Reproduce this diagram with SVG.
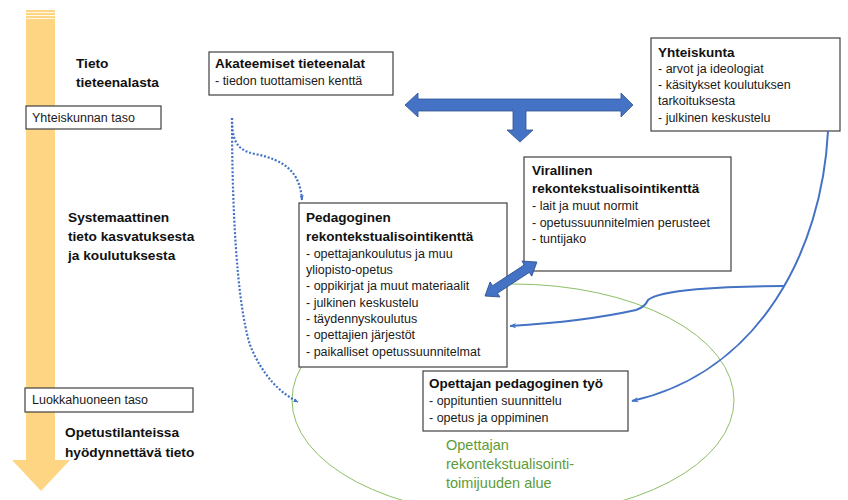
<svg xmlns="http://www.w3.org/2000/svg" width="848" height="500" viewBox="0 0 848 500">
<defs>
<style>
.box{fill:#fff;stroke:#404040;stroke-width:1.2}
.t{font-family:"Liberation Sans",Arial,sans-serif;font-size:12.5px;fill:#1a1a1a}
.b{font-family:"Liberation Sans",Arial,sans-serif;font-size:13.5px;font-weight:bold;fill:#111}
.side{font-family:"Liberation Sans",Arial,sans-serif;font-size:13.7px;font-weight:bold;fill:#111}
.green{font-family:"Liberation Sans",Arial,sans-serif;font-size:14.5px;fill:#5E9B3A}
.conn{fill:none;stroke:#4472C4;stroke-width:2}
.dot{fill:none;stroke:#4472C4;stroke-width:2.2;stroke-dasharray:2 1.8}
.big{fill:#4472C4;stroke:#2F528F;stroke-width:0.8}
</style>
<marker id="ah" viewBox="0 0 10 10" refX="9" refY="5" markerWidth="5" markerHeight="5" orient="auto" markerUnits="userSpaceOnUse">
<path d="M0,1 L10,5 L0,9 z" fill="#4472C4"/>
</marker>
<marker id="ah2" viewBox="0 0 10 10" refX="9" refY="5" markerWidth="7" markerHeight="7" orient="auto" markerUnits="userSpaceOnUse">
<path d="M0,1 L10,5 L0,9 L3,5 z" fill="#4472C4"/>
</marker>
</defs>
<rect width="848" height="500" fill="#fff"/>

<g id="level-arrow">
<polygon points="26,10 55,10 55,460 70,460 41,491 12,460 26,460" fill="#FED583"/>
<line x1="26" y1="12.5" x2="55" y2="12.5" stroke="#fff" stroke-width="0.8"/>
<line x1="26" y1="15.5" x2="55" y2="15.5" stroke="#fff" stroke-width="0.8"/>
<line x1="26" y1="18.5" x2="55" y2="18.5" stroke="#fff" stroke-width="0.8"/>
</g>

<g id="side-labels">
<text class="side" x="76" y="68">Tieto</text>
<text class="side" x="76" y="87">tieteenalasta</text>
<text class="side" x="68" y="222">Systemaattinen</text>
<text class="side" x="68" y="241">tieto kasvatuksesta</text>
<text class="side" x="68" y="260">ja koulutuksesta</text>
<text class="side" x="65" y="437">Opetustilanteissa</text>
<text class="side" x="65" y="457">hyödynnettävä tieto</text>
</g>

<g id="yhteiskunnan-taso">
<rect class="box" x="26" y="106" width="135" height="23"/>
<text class="t" x="32" y="122">Yhteiskunnan taso</text>
</g>

<g id="luokkahuoneen-taso">
<rect class="box" x="25" y="388" width="168" height="24"/>
<text class="t" x="32" y="404">Luokkahuoneen taso</text>
</g>

<g id="ellipse-area">
<ellipse cx="513" cy="400" rx="221" ry="116" fill="none" stroke="#8CC068" stroke-width="1"/>
<text class="green" x="446" y="450">Opettajan</text>
<text class="green" x="446" y="469">rekontekstualisointi-</text>
<text class="green" x="446" y="488">toimijuuden alue</text>
</g>

<g id="akateemiset">
<rect class="box" x="209" y="52" width="184" height="43"/>
<text class="b" x="215" y="68">Akateemiset tieteenalat</text>
<text class="t" x="215" y="85">- tiedon tuottamisen kenttä</text>
</g>

<g id="yhteiskunta">
<rect class="box" x="651" y="38" width="189" height="93"/>
<text class="b" x="658" y="57">Yhteiskunta</text>
<text class="t" x="658" y="73">- arvot ja ideologiat</text>
<text class="t" x="658" y="89">- käsitykset koulutuksen</text>
<text class="t" x="658" y="105">tarkoituksesta</text>
<text class="t" x="658" y="122">- julkinen keskustelu</text>
</g>

<g id="virallinen">
<rect class="box" x="524" y="157" width="207" height="114"/>
<text class="b" x="532" y="175">Virallinen</text>
<text class="b" x="532" y="193">rekontekstualisointikenttä</text>
<text class="t" x="532" y="210">- lait ja muut normit</text>
<text class="t" x="532" y="227">- opetussuunnitelmien perusteet</text>
<text class="t" x="532" y="243">- tuntijako</text>
</g>

<g id="pedagoginen">
<rect class="box" x="299" y="203" width="208" height="164"/>
<text class="b" x="306" y="222">Pedagoginen</text>
<text class="b" x="306" y="241">rekontekstualisointikenttä</text>
<text class="t" x="306" y="258">- opettajankoulutus ja muu</text>
<text class="t" x="306" y="274">yliopisto-opetus</text>
<text class="t" x="306" y="290">- oppikirjat ja muut materiaalit</text>
<text class="t" x="306" y="307">- julkinen keskustelu</text>
<text class="t" x="306" y="323">- täydennyskoulutus</text>
<text class="t" x="306" y="339">- opettajien järjestöt</text>
<text class="t" x="306" y="356">- paikalliset opetussuunnitelmat</text>
</g>

<g id="opettajan-tyo">
<rect class="box" x="423" y="371" width="205" height="60"/>
<text class="b" x="429" y="388">Opettajan pedagoginen työ</text>
<text class="t" x="429" y="405">- oppituntien suunnittelu</text>
<text class="t" x="429" y="422">- opetus ja oppiminen</text>
</g>

<g id="connectors">
<polygon class="big" points="405,105 418,93 418,99 621,99 621,93 633,105 621,117 621,111 526,111 526,130 533,130 520,142 507,130 513,130 513,111 418,111 418,117"/>
<g transform="translate(485,296) rotate(-33.2)">
<polygon class="big" points="0,0 12,-9 12,-4.5 50,-4.5 50,-9 62,0 50,9 50,4.5 12,4.5 12,9"/>
</g>
<path class="dot" d="M232,118 C232,140 236,150 255,154 C285,160 300,172 302,200" marker-end="url(#ah)"/>
<path class="dot" d="M232,118 C232,200 236,300 250,345 C262,375 280,393 298,402" marker-end="url(#ah)"/>
<path class="conn" d="M828,131 C822,250 760,372 632,401" marker-end="url(#ah2)"/>
<path class="conn" d="M784,286 C720,286 660,290 648,300 Q645,307 636,310 C600,318 560,323 510,326" marker-end="url(#ah2)"/>
</g>
</svg>
